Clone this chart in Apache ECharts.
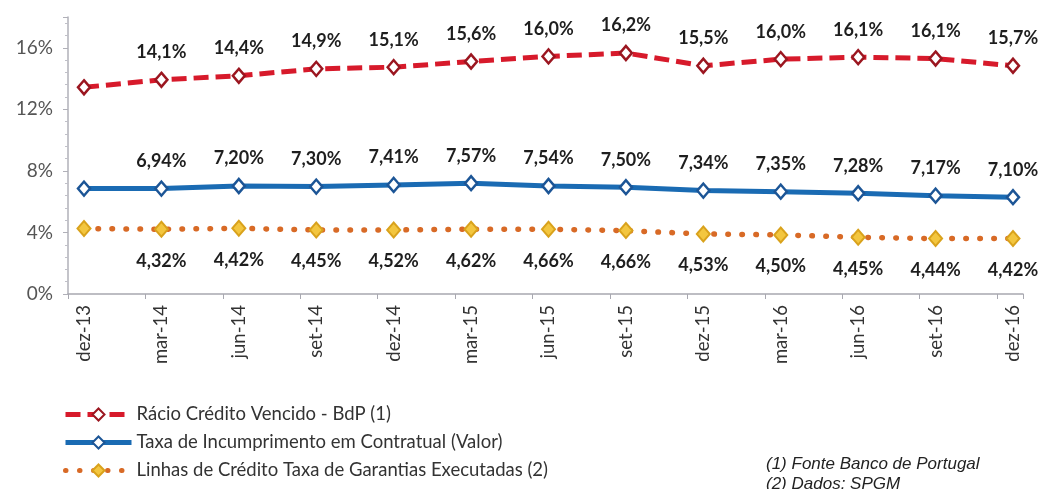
<!DOCTYPE html>
<html>
<head>
<meta charset="utf-8">
<script src="https://cdn.jsdelivr.net/npm/echarts@6/dist/echarts.min.js"></script>
<style>html,body{margin:0;padding:0;background:#fff;}#c{width:1044px;height:489px;}</style>
</head>
<body>
<div id="c"></div>
<script>
const categories = ['dez-13','mar-14','jun-14','set-14','dez-14','mar-15','jun-15','set-15','dez-15','mar-16','jun-16','set-16','dez-16'];
const seriesNames = ['Rácio Crédito Vencido - BdP (1)','Taxa de Incumprimento em Contratual (Valor)','Linhas de Crédito Taxa de Garantias Executadas (2)'];
// plotted positions (percent)
const racioValues = [13.43,13.92,14.18,14.63,14.74,15.11,15.44,15.66,14.83,15.26,15.39,15.30,14.83];
const taxaValues  = [6.85,6.85,7.02,6.98,7.09,7.20,7.02,6.94,6.72,6.65,6.55,6.39,6.29];
const linhasValues = [4.25,4.21,4.27,4.16,4.16,4.21,4.21,4.12,3.90,3.84,3.69,3.60,3.60];
// printed data labels
const racioLabels = [null,14.1,14.4,14.9,15.1,15.6,16.0,16.2,15.5,16.0,16.1,16.1,15.7];
const taxaLabels  = [null,6.94,7.20,7.30,7.41,7.57,7.54,7.50,7.34,7.35,7.28,7.17,7.10];
const linhasLabels = [null,4.32,4.42,4.45,4.52,4.62,4.66,4.66,4.53,4.50,4.45,4.44,4.42];
const yTicks = [0,4,8,12,16];
const notes = ['(1) Fonte Banco de Portugal','(2) Dados: SPGM'];

function fmt(v, d){ return v == null ? '' : v.toFixed(d).replace('.', ',') + '%'; }

const chart = echarts.init(document.getElementById('c'), null, {renderer:'canvas'});
const labelFont = {fontFamily:'Lato', fontWeight:'bold', fontSize:18, color:'#1e1e1e'};

chart.setOption({
  animation:false,
  backgroundColor:'#ffffff',
  grid:[
    {left:68, right:21, top:17, bottom:195},
    {left:84, right:31, top:17, bottom:195}
  ],
  xAxis:[
    {type:'value', gridIndex:0, min:0, max:12.335, interval:1,
     axisLine:{show:true, lineStyle:{color:'#a8a8b0', width:1.5}},
     axisTick:{show:true, length:5, lineStyle:{color:'#a8a8b0'}},
     axisLabel:{show:false}, splitLine:{show:false}},
    {type:'category', gridIndex:1, data:categories, boundaryGap:false,
     axisLine:{show:false}, axisTick:{show:false}, splitLine:{show:false},
     axisLabel:{rotate:90, margin:11, fontFamily:'Lato', fontSize:18.5, color:'#333', interval:0}}
  ],
  yAxis:[
    {type:'value', gridIndex:0, min:0, max:18, interval:4,
     axisLine:{show:true, lineStyle:{color:'#b0b0b8', width:1.5}},
     axisTick:{show:true, length:5, lineStyle:{color:'#b0b0b8'}},
     minorTick:{show:true, splitNumber:5, length:3, lineStyle:{color:'#c0c0c8'}},
     splitLine:{show:false},
     axisLabel:{margin:15, fontFamily:'Lato', fontSize:19, color:'#555',
       formatter:function(v){ return yTicks.indexOf(v) >= 0 ? v + '%' : ''; }}},
    {type:'value', gridIndex:1, min:0, max:18, show:false, splitLine:{show:false}}
  ],
  legend:{
    orient:'vertical', left:58, top:400, itemWidth:66, itemHeight:15, itemGap:9,
    textStyle:{fontFamily:'Lato', fontSize:18.5, color:'#333'},
    data:[
      {name:seriesNames[0], lineStyle:{width:5}},
      {name:seriesNames[1], lineStyle:{width:5}},
      {name:seriesNames[2], lineStyle:{width:5}}
    ]
  },
  graphic:[
    {type:'text', left:766, top:456, style:{text:notes[0], font:'italic 17px "Liberation Sans"', fill:'#222'}},
    {type:'text', left:766, top:476, style:{text:notes[1], font:'italic 17px "Liberation Sans"', fill:'#222'}}
  ],
  series:[
    {name:seriesNames[0], type:'line', xAxisIndex:1, yAxisIndex:1, data:racioValues,
     symbol:'diamond', symbolSize:[12,14], showAllSymbol:true,
     lineStyle:{color:'#d71a2b', width:5, type:[15,7]},
     itemStyle:{color:'#ffffff', borderColor:'#9b1620', borderWidth:2.5},
     label:{show:true, position:'top', distance:10, ...labelFont,
       formatter:function(p){ return fmt(racioLabels[p.dataIndex],1); }},
     z:3},
    {name:seriesNames[1], type:'line', xAxisIndex:1, yAxisIndex:1, data:taxaValues,
     symbol:'diamond', symbolSize:[12,14], showAllSymbol:true,
     lineStyle:{color:'#1a6bb3', width:5},
     itemStyle:{color:'#ffffff', borderColor:'#1c5596', borderWidth:2.5},
     label:{show:true, position:'top', distance:10, ...labelFont,
       formatter:function(p){ return fmt(taxaLabels[p.dataIndex],2); }},
     z:3},
    {name:seriesNames[2], type:'line', xAxisIndex:1, yAxisIndex:1, data:linhasValues,
     symbol:'diamond', symbolSize:[13,15], showAllSymbol:true,
     lineStyle:{color:'#d86a26', width:5.5, type:[0.5,13.5], cap:'round'},
     itemStyle:{color:'#f3c63f', borderColor:'#d9a21c', borderWidth:2},
     label:{show:true, position:'bottom', distance:14, ...labelFont,
       formatter:function(p){ return fmt(linhasLabels[p.dataIndex],2); }},
     z:3}
  ]
});
</script>
</body>
</html>
